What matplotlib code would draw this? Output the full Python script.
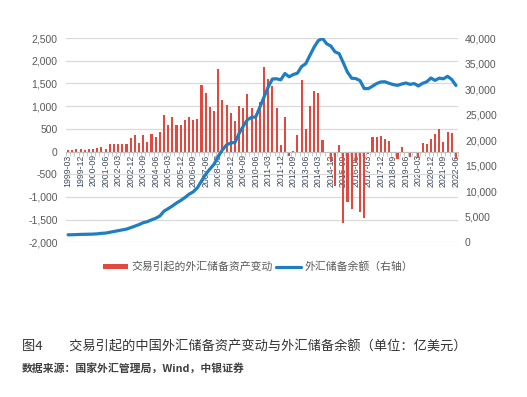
import matplotlib
matplotlib.use('Agg')
import matplotlib.pyplot as plt
from matplotlib.ticker import FuncFormatter, FixedLocator
import numpy as np

plt.rcParams['font.family'] = ['Liberation Sans', 'Noto Sans CJK SC', 'DejaVu Sans']

# quarters 1999-03 .. 2022-06
quarters = [f'{y}-{m}' for y in range(1999, 2023) for m in ('03', '06', '09', '12')][:94]

# 交易引起的外汇储备资产变动 (亿美元)
reserve_change = [
    40, 25, 60, 45, 25, 45, 45, 70, 105, 60, 155, 175,              # 1999-2001
    155, 155, 155, 290, 370, 190, 355, 205, 395, 330, 420, 810,     # 2002-2004
    590, 760, 580, 580, 700, 760, 700, 720, 1460, 1290, 980, 900,   # 2005-2007
    1820, 1140, 1030, 840, 665, 1000, 950, 1260, 965, 770, 1090, 1870,  # 2008-2010
    1600, 1450, 950, 140, 770, -100, 20, 360, 1585, 490, 1000, 1330,    # 2011-2013
    1280, 250, 0, -241, -754, 138, -1572, -1118, -1265, -250, -1325, -1469,  # 2014-2016
    -60, 329, 314, 336, 270, 241, 0, -168, 110, -40, -132, -30,      # 2017-2019
    -154, 197, 161, 270, 380, 490, 219, 431, 402, -168,             # 2020-2022
]

# 外汇储备余额 (亿美元, 右轴)
reserve_balance = [
    1468, 1480, 1510, 1547, 1568, 1583, 1606, 1656, 1759, 1806, 1960, 2122,
    2274, 2427, 2580, 2864, 3160, 3465, 3840, 4033, 4396, 4708, 5145, 6099,
    6591, 7110, 7690, 8189, 8751, 9411, 9879, 10663, 12020, 13326, 14336, 15282,
    16822, 18088, 19056, 19460, 19537, 21316, 22726, 23992, 24471, 24543, 26483, 28473,
    30447, 31975, 32017, 31811, 33050, 32400, 32850, 33116, 34426, 34967, 36627, 38213,
    39481, 39932, 38877, 38430, 37301, 36938, 35141, 33304, 32126, 32052, 31664, 30105,
    30091, 30568, 31085, 31399, 31428, 31121, 30870, 30727, 30988, 31192, 30924, 31079,
    30606, 31123, 31426, 32165, 31700, 32140, 32006, 32502, 31880, 30713,
]

bar_label = '交易引起的外汇储备资产变动'
line_label = '外汇储备余额（右轴）'
caption = '图4　　交易引起的中国外汇储备资产变动与外汇储备余额（单位：亿美元）'
source = '数据来源：国家外汇管理局，Wind，中银证券'

x = np.arange(len(quarters))
red = '#E2483E'
blue = '#1F7EC2'
grey_txt = '#595959'

fig = plt.figure(figsize=(5.27, 3.97), dpi=100)
ax = fig.add_axes([66 / 527, 1 - 242.3 / 397, 392 / 527, 204.3 / 397])

bars = ax.bar(x, reserve_change, width=0.5, color=red, zorder=2, label=bar_label)
ax.set_xlim(-0.5, len(x) - 0.5)
ax.set_ylim(-2000, 2500)
ax.set_yticks(np.arange(-2000, 2501, 500))
ax.yaxis.set_major_formatter(FuncFormatter(lambda v, p: f'{int(v):,}'))
ax.yaxis.grid(True, color='#D9D9D9', lw=0.9, zorder=0)
ax.set_axisbelow(True)
for s in ('top', 'right', 'left'):
    ax.spines[s].set_visible(False)
ax.spines['bottom'].set_position(('data', 0))
ax.spines['bottom'].set_color('#BFBFBF')
ax.tick_params(axis='y', length=0, pad=6, labelsize=7.5, labelcolor=grey_txt)

ax.xaxis.set_major_locator(FixedLocator(x[::3]))
ax.set_xticklabels(quarters[::3], rotation=90, fontsize=6.3, color='#3E4A5A')
ax.xaxis.set_minor_locator(FixedLocator(np.arange(-0.5, len(x), 1)))
ax.tick_params(axis='x', which='major', length=0, pad=2)
ax.tick_params(axis='x', which='minor', length=3, color='#BFBFBF', width=0.6)

ax2 = ax.twinx()
line, = ax2.plot(x, reserve_balance, color=blue, lw=2.3, label=line_label, solid_capstyle='round')
ax2.set_ylim(0, 40000)
ax2.set_yticks(np.arange(0, 40001, 5000))
ax2.yaxis.set_major_formatter(FuncFormatter(lambda v, p: f'{int(v):,}'))
for s in ax2.spines.values():
    s.set_visible(False)
ax2.tick_params(axis='y', length=0, pad=5, labelsize=7.5, labelcolor=grey_txt)

leg = fig.legend([bars, line], [bar_label, line_label], loc='center', ncol=2,
                 bbox_to_anchor=(258 / 527, 1 - 266.7 / 397), frameon=False,
                 prop={'family': 'Noto Sans CJK SC', 'size': 7.8},
                 handlelength=2.3, handleheight=0.35, handletextpad=0.35, columnspacing=0.3)
for t in leg.get_texts():
    t.set_color(grey_txt)

fig.text(22 / 527, 1 - 346.7 / 397, caption, fontsize=9.5, va='center', ha='left',
         family=['Noto Sans CJK SC', 'DejaVu Sans'], color='#333333')
fig.text(22 / 527, 1 - 368 / 397, source, fontsize=7.8, va='center', ha='left',
         family=['Noto Sans CJK SC', 'DejaVu Sans'], color='#404040', fontweight='bold')

fig.savefig('out.png', dpi=100)
